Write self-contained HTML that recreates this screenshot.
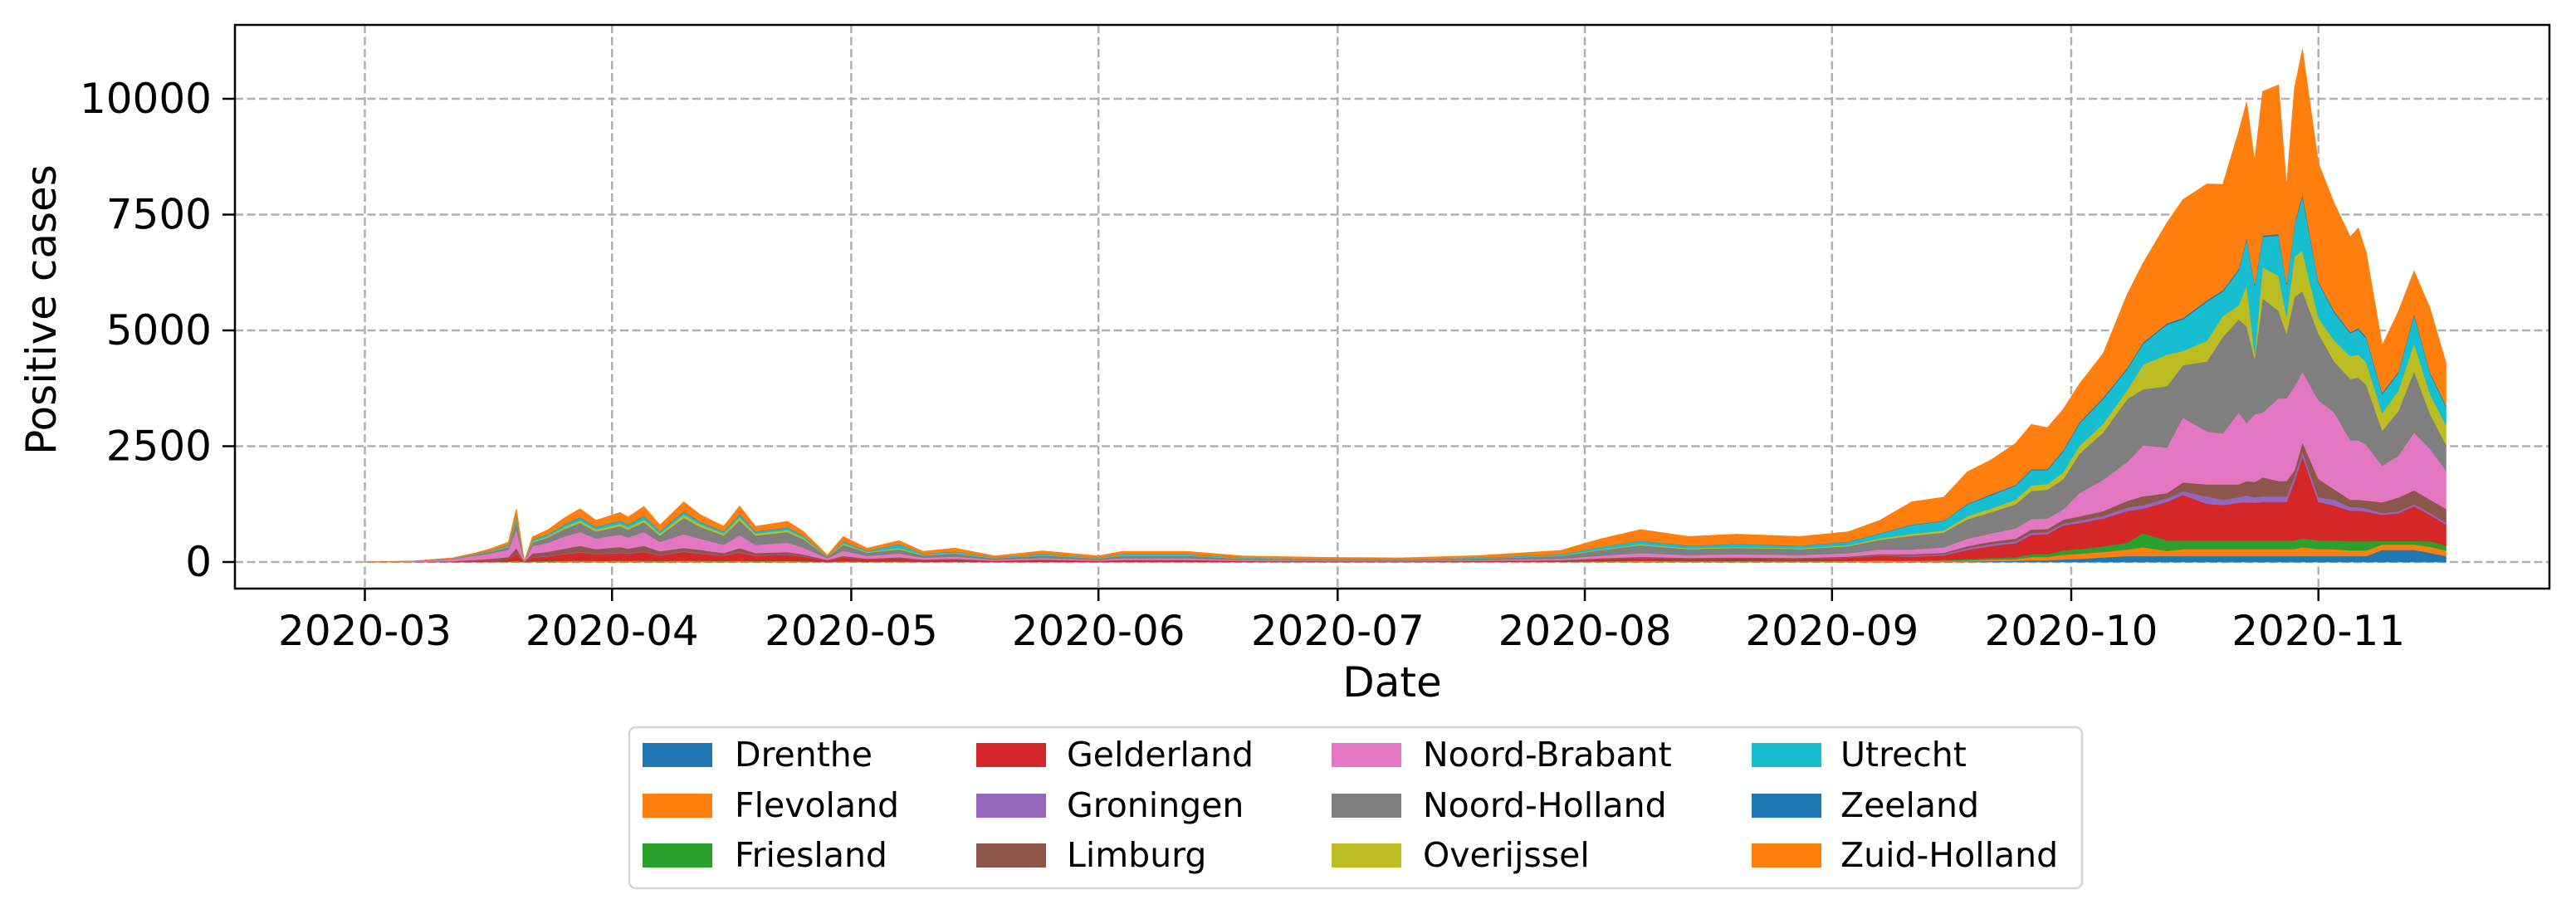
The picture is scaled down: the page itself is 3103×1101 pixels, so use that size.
<!DOCTYPE html>
<html><head><meta charset="utf-8"><style>
html,body{margin:0;padding:0;background:#fff;}
svg{display:block;font-family:"DejaVu Sans","Liberation Sans",sans-serif;}
</style></head><body>
<svg id="chart" width="3103" height="1101" viewBox="0 0 3103 1101" xmlns="http://www.w3.org/2000/svg">
<rect x="0" y="0" width="3103" height="1101" fill="#fff"/>
<g id="grid"></g>
<g id="areas"></g>
<rect x="283" y="30" width="2788" height="679" fill="none" stroke="#000" stroke-width="2.5"/>
<g id="axes"></g>
<text x="50" y="373" font-size="50" text-anchor="middle" dominant-baseline="central" transform="rotate(-90 50 373)">Positive cases</text>
<text x="1677" y="822" font-size="50" text-anchor="middle" dominant-baseline="central">Date</text>
<g id="legend">
<rect x="758" y="876" width="1750" height="194" rx="8" fill="#fff" stroke="#d6d6d6" stroke-width="2.5"/>
</g>
</svg>
<script>
const days=[0,6,11,14,16,18,19,20,21,23,25,27,29,32,33,35,37,40,42,45,47,49,53,55,58,60,63,67,70,74,79,85,92,95,103,110,120,130,140,150,155,160,166,172,180,186,190,194,198,201,204,207,209,211,213,215,218,221,223,226,228,231,233,235,236,237,238,240,241,242,243,245,247,249,250,251,253,255,257,259,261];
const provinces=["Drenthe","Flevoland","Friesland","Gelderland","Groningen","Limburg","Noord-Brabant","Noord-Holland","Overijssel","Utrecht","Zeeland","Zuid-Holland"];
const drenthe=[0,0,1,2,3,4,8,0,5,6,8,10,8,9,8,10,7,11,9,7,10,7,8,6,1,5,3,4,2,3,1,2,1,2,2,1,1,1,1,2,4,5,4,5,4,5,8,10,12,15,20,25,40,40,60,70,100,130,130,130,130,130,130,130,130,130,130,130,130,130,130,130,130,130,130,130,265,265,265,200,130];
const flevoland=[0,0,1,2,3,5,10,0,7,9,12,14,11,13,12,15,10,16,13,10,15,10,11,8,2,7,4,6,3,4,2,3,2,3,3,2,2,2,3,5,10,14,11,12,11,13,18,15,17,25,35,40,70,70,100,110,120,140,190,110,150,150,150,150,150,150,150,150,150,150,190,150,150,120,120,120,115,115,115,130,120];
const friesland=[0,0,1,2,3,5,10,0,7,9,12,14,11,13,12,15,10,16,13,10,15,10,11,8,2,7,4,6,3,4,2,3,2,3,3,2,2,2,3,5,10,14,11,12,11,13,18,15,17,25,35,40,60,60,90,100,120,150,305,230,190,190,190,190,190,190,190,190,190,190,190,190,190,200,200,200,75,75,75,120,110];
const gelderland=[0,2,8,18,25,40,150,5,80,100,140,170,140,165,150,180,120,180,150,110,170,110,125,95,30,80,45,65,35,45,20,35,18,30,30,15,10,8,12,20,40,55,45,50,45,60,90,80,100,200,260,300,420,430,545,560,600,680,530,830,980,790,760,810,820,810,830,830,830,1280,1780,830,750,660,660,640,565,600,755,570,450];
const groningen=[0,0,1,2,3,4,8,0,6,8,10,12,9,11,10,12,8,13,10,8,12,8,9,7,2,6,3,5,2,3,1,2,1,2,2,1,1,1,2,3,5,7,6,6,6,8,10,20,22,35,40,45,45,45,40,55,60,80,75,80,80,155,120,120,150,120,120,120,120,100,100,100,130,80,80,70,40,40,40,40,40];
const limburg=[0,2,10,25,40,50,120,2,80,90,110,130,100,115,100,120,80,70,70,50,80,50,55,40,10,30,15,20,10,12,5,10,5,8,8,5,4,4,5,8,15,20,15,18,15,20,28,30,32,45,50,55,70,70,80,90,100,140,190,110,190,265,330,280,310,330,410,330,330,130,200,395,220,155,155,170,230,300,300,290,300];
const noordBrabant=[0,10,45,90,120,160,400,6,160,200,260,300,230,270,240,300,200,300,240,180,280,180,200,150,35,110,60,80,40,50,20,35,20,35,35,20,15,12,18,30,55,80,60,65,60,75,100,100,120,160,180,220,230,230,225,500,680,840,1100,985,1400,1140,1100,1550,1255,1460,1400,1785,1785,1820,1520,1705,1660,1285,1285,1200,790,900,1250,1095,830];
const noordHolland=[0,3,10,25,40,60,200,3,80,110,160,200,150,180,170,210,140,350,260,200,320,200,230,180,30,130,70,90,50,65,30,55,30,55,55,30,25,22,35,60,120,170,130,140,130,150,210,300,320,420,460,520,600,620,650,850,1020,1360,1210,1325,1130,1510,2080,2010,2085,1210,2460,1895,1400,1930,1740,1435,1100,1325,1350,1300,760,960,1325,755,560];
const overijssel=[0,0,2,6,10,15,40,1,25,30,40,50,40,50,45,60,40,70,55,40,65,40,45,35,8,30,15,25,12,15,7,12,7,12,12,7,5,4,5,8,15,20,15,18,15,20,30,40,45,70,80,100,120,120,150,170,190,190,530,680,310,450,450,300,900,100,680,750,380,870,870,340,450,490,500,480,380,440,605,420,420];
const utrecht=[0,1,4,10,15,25,60,1,30,40,50,60,50,60,55,70,45,60,50,40,60,40,45,35,8,40,20,80,20,25,12,20,12,20,20,12,10,9,14,25,50,70,55,60,55,70,100,190,200,250,290,300,330,300,450,480,530,450,450,645,680,840,530,760,990,1470,650,870,680,680,1170,755,610,495,540,520,410,380,605,450,400];
const zeeland=[0,0,1,2,3,4,8,0,5,6,8,10,8,9,8,10,7,11,9,7,10,7,8,6,1,5,3,4,2,3,1,2,1,2,2,1,1,1,1,2,4,5,4,5,4,5,8,10,10,15,20,20,20,20,30,30,30,30,30,30,30,30,30,30,30,30,30,30,30,30,60,30,30,30,30,30,30,30,30,30,30];
const zuidHolland=[0,2,6,16,35,58,136,2,55,92,140,180,143,175,160,198,133,203,151,108,173,108,133,90,21,100,58,75,51,71,29,61,31,58,58,34,24,24,41,82,172,240,194,209,194,211,280,490,505,690,740,895,965,895,880,825,950,1580,1710,2165,2550,2510,2280,2960,2920,2650,3110,3220,2095,2920,3120,2550,2320,2050,2160,1820,1020,1295,915,1380,910];
const yTicks=[0,2500,5000,7500,10000];
const monthLabels=["2020-03","2020-04","2020-05","2020-06","2020-07","2020-08","2020-09","2020-10","2020-11"];
const monthDays=[0,31,61,92,122,153,184,214,245];

const series=[drenthe,flevoland,friesland,gelderland,groningen,limburg,noordBrabant,noordHolland,overijssel,utrecht,zeeland,zuidHolland];
const colors=["#1f77b4","#ff7f0e","#2ca02c","#d62728","#9467bd","#8c564b","#e377c2","#7f7f7f","#bcbd22","#17becf","#1f77b4","#ff7f0e"];
const NS="http://www.w3.org/2000/svg";
const X0=439.5,PXD=9.605,Y0=677,PXV=(677-119)/10000;
const xs=d=>X0+d*PXD;
const ys=v=>Y0-v*PXV;
function mk(tag,attrs,parent){const e=document.createElementNS(NS,tag);for(const k in attrs)e.setAttribute(k,attrs[k]);parent.appendChild(e);return e;}
const grid=document.getElementById('grid'),axes=document.getElementById('axes'),areas=document.getElementById('areas'),legend=document.getElementById('legend');
yTicks.forEach(v=>{
  const y=ys(v);
  const g=mk('line',{x1:283,x2:3071,y1:y,y2:y,stroke:'#b0b0b0','stroke-width':2.5,'stroke-dasharray':'10,4.5'},grid);
  
  
  const t=mk('line',{x1:268,x2:283,y1:y,y2:y,stroke:'#000','stroke-width':2.5},axes);
  
  
  const l=mk('text',{x:255,y:y,'font-size':50,'text-anchor':'end','dominant-baseline':'central'},axes);
  l.textContent=String(v);
  
  
});
monthDays.forEach((d,i)=>{
  const x=xs(d);
  const g=mk('line',{x1:x,x2:x,y1:30,y2:709,stroke:'#b0b0b0','stroke-width':2.5,'stroke-dasharray':'10,4.5'},grid);
  
  
  const t=mk('line',{x1:x,x2:x,y1:709,y2:724,stroke:'#000','stroke-width':2.5},axes);
  
  
  const l=mk('text',{x:x,y:760,'font-size':50,'text-anchor':'middle','dominant-baseline':'central'},axes);
  l.textContent=monthLabels[i];
  
  
});
const cum=days.map(()=>0);
series.forEach((s,k)=>{
  const lower=cum.slice();
  s.forEach((v,i)=>{cum[i]+=v;});
  let d='';
  days.forEach((dd,i)=>{d+=(i?'L':'M')+xs(dd).toFixed(1)+','+ys(cum[i]).toFixed(1);});
  for(let i=days.length-1;i>=0;i--){d+='L'+xs(days[i]).toFixed(1)+','+ys(lower[i]).toFixed(1);}
  d+='Z';
  const p=mk('path',{d:d,fill:colors[k],stroke:colors[k],'stroke-width':0.8},areas);
  
  
});
const colPatchX=[774,1176,1604,2110],colTextX=[895,1295,1724,2227],rowY=[909,970,1030];
provinces.forEach((name,i)=>{
  const c=Math.floor(i/3),r=i%3;
  const p=mk('rect',{x:colPatchX[c],y:rowY[r]-14,width:84,height:29,fill:colors[i]},legend);
  
  
  const t=mk('text',{x:colTextX[c]-10,y:rowY[r],'font-size':41,'dominant-baseline':'central'},legend);
  t.textContent=name;
  
  
});
</script>
</body></html>
